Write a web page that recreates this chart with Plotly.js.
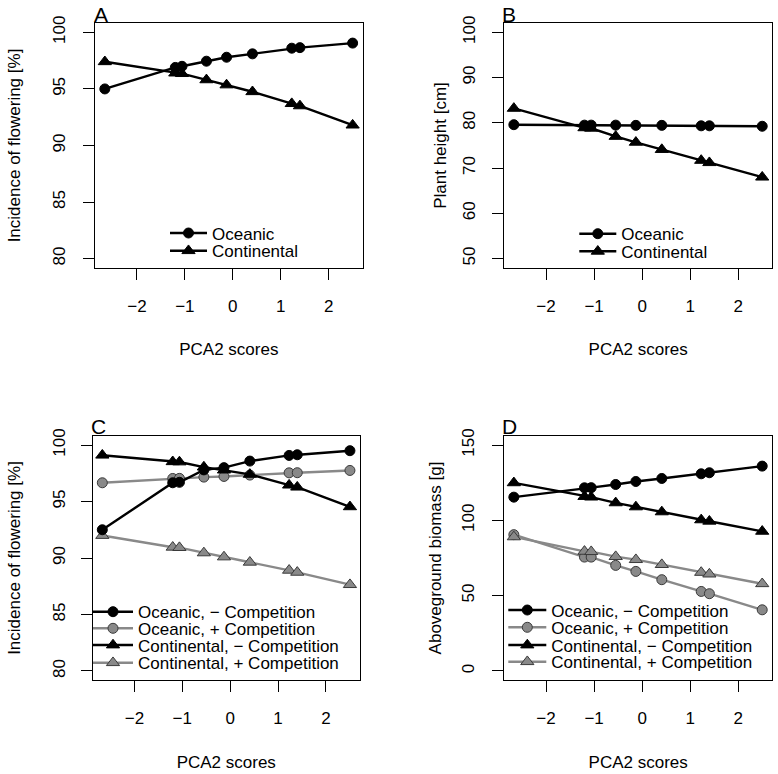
<!DOCTYPE html>
<html><head><meta charset="utf-8">
<script src="https://cdn.plot.ly/plotly-3.0.1.min.js"></script>
<style>html,body{margin:0;padding:0;background:#fff;} #chart{width:778px;height:774px;}</style>
</head><body><div id="chart"></div>
<script>
// PCA2 scores of the populations (x values shared by all panels)
const pcaScores = [-2.67, -1.20, -1.06, -0.55, -0.13, 0.41, 1.23, 1.40, 2.50];
const xTicks = [-2, -1, 0, 1, 2];

// Panel A: incidence of flowering [%]
const aOceanic     = [95.0, 96.9, 97.0, 97.45, 97.8, 98.1, 98.6, 98.65, 99.05];
const aContinental = [97.4, 96.4, 96.35, 95.8, 95.35, 94.75, 93.7, 93.5, 91.8];

// Panel B: plant height [cm]
const bOceanic     = [79.6, 79.5, 79.5, 79.5, 79.45, 79.45, 79.35, 79.35, 79.25];
const bContinental = [83.2, 78.9, 78.8, 77.0, 75.7, 74.1, 71.7, 71.2, 68.0];

// Panel C: incidence of flowering [%] with/without competition
const cOceanicNoComp     = [92.5, 96.66, 96.7, 97.8, 98.0, 98.58, 99.08, 99.14, 99.5];
const cOceanicComp       = [96.66, 97.04, 97.05, 97.16, 97.22, 97.34, 97.54, 97.55, 97.75];
const cContinentalNoComp = [99.1, 98.52, 98.5, 98.05, 97.78, 97.4, 96.45, 96.27, 94.53];
const cContinentalComp   = [91.99, 90.95, 90.92, 90.45, 90.09, 89.62, 88.91, 88.73, 87.64];

// Panel D: aboveground biomass [g]
const dOceanicNoComp     = [115.4, 121.6, 121.7, 123.8, 125.8, 127.8, 130.9, 131.6, 136.0];
const dOceanicComp       = [90.5, 75.6, 75.6, 70.1, 66.1, 60.6, 52.8, 51.3, 40.6];
const dContinentalNoComp = [124.9, 115.8, 115.4, 111.6, 108.9, 105.6, 100.3, 99.4, 92.7];
const dContinentalComp   = [89.0, 79.4, 79.2, 75.9, 73.9, 70.6, 65.4, 64.3, 57.9];

const labelsAB = ['Oceanic', 'Continental'];
const labelsCD = ['Oceanic, \u2212 Competition', 'Oceanic, + Competition',
                  'Continental, \u2212 Competition', 'Continental, + Competition'];
const yTicksAC = [80, 85, 90, 95, 100];
const yTicksB  = [50, 60, 70, 80, 90, 100];
const yTicksD  = [0, 50, 100, 150];
const yTitles  = ['Incidence of flowering [%]', 'Plant height [cm]',
                  'Incidence of flowering [%]', 'Aboveground biomass [g]'];

const FONT = 'Liberation Sans, Arial, Helvetica, sans-serif';
const FS = 17;
const W = 778, H = 774;
const BLACK = '#000000', GRAY = '#898989', GRAYEDGE = '#3a3a3a';

function trace(x, y, name, ax, ay, symbol, gray, legend) {
  const tri = symbol === 'triangle-up';
  return {
    x: x, y: y, name: name, type: 'scatter', mode: 'lines+markers',
    xaxis: ax, yaxis: ay, legend: legend, showlegend: true,
    line: {color: gray ? GRAY : BLACK, width: 2.4},
    marker: {symbol: symbol, size: tri ? 11.5 : 10, color: gray ? GRAY : BLACK,
             line: {color: gray ? GRAYEDGE : BLACK, width: 1}},
    hoverinfo: 'x+y+name'
  };
}
// empty helper traces that bind the label / title axes to their panel
function binder(ax, ay) {
  return {x: [], y: [], type: 'scatter', mode: 'markers', xaxis: ax, yaxis: ay,
          showlegend: false, hoverinfo: 'skip'};
}

const data = [
  trace(pcaScores, aOceanic, labelsAB[0], 'x', 'y', 'circle', false, 'legend'),
  trace(pcaScores, aContinental, labelsAB[1], 'x', 'y', 'triangle-up', false, 'legend2'),
  trace(pcaScores, bOceanic, labelsAB[0], 'x2', 'y2', 'circle', false, 'legend3'),
  trace(pcaScores, bContinental, labelsAB[1], 'x2', 'y2', 'triangle-up', false, 'legend4'),
  trace(pcaScores, cOceanicNoComp, labelsCD[0], 'x3', 'y3', 'circle', false, 'legend5'),
  trace(pcaScores, cOceanicComp, labelsCD[1], 'x3', 'y3', 'circle', true, 'legend6'),
  trace(pcaScores, cContinentalNoComp, labelsCD[2], 'x3', 'y3', 'triangle-up', false, 'legend7'),
  trace(pcaScores, cContinentalComp, labelsCD[3], 'x3', 'y3', 'triangle-up', true, 'legend8'),
  trace(pcaScores, dOceanicNoComp, labelsCD[0], 'x4', 'y4', 'circle', false, 'legend9'),
  trace(pcaScores, dOceanicComp, labelsCD[1], 'x4', 'y4', 'circle', true, 'legend10'),
  trace(pcaScores, dContinentalNoComp, labelsCD[2], 'x4', 'y4', 'triangle-up', false, 'legend11'),
  trace(pcaScores, dContinentalComp, labelsCD[3], 'x4', 'y4', 'triangle-up', true, 'legend12')
];
// draw order: grey series below black ones, like the reference
data.sort(function(a, b) { return (a.line.color === GRAY ? 0 : 1) - (b.line.color === GRAY ? 0 : 1); });
['', '2', '3', '4'].forEach(function(s, i) {
  data.push(binder('x' + s, 'y' + (5 + i)));
  data.push(binder('x' + s, 'y' + (9 + i)));
});

function xAxis(domain, anchor) {
  return {
    domain: domain, anchor: anchor, range: [-2.875, 2.71], automargin: false,
    tickvals: xTicks, ticktext: xTicks.map(v => v < 0 ? '\u2212' + Math.abs(v) : String(v)),
    showgrid: false, zeroline: false, showline: true, mirror: true,
    linecolor: BLACK, linewidth: 1, ticks: 'outside', ticklen: 11, tickcolor: BLACK, tickwidth: 1,
    ticklabelstandoff: 12,
    tickfont: {family: FONT, size: FS, color: BLACK},
    title: {text: 'PCA2 scores', font: {family: FONT, size: FS, color: BLACK}, standoff: 28},
    fixedrange: true
  };
}
// main y axis: frame and tick marks
function yAxis(domain, anchor, range, ticks) {
  return {
    domain: domain, anchor: anchor, range: range, tickvals: ticks, automargin: false,
    showgrid: false, zeroline: false, showline: true, mirror: true,
    linecolor: BLACK, linewidth: 1, ticks: 'outside', ticklen: 11, tickcolor: BLACK, tickwidth: 1,
    showticklabels: false, fixedrange: true
  };
}
// overlay y axis carrying the rotated tick labels
function yLabelAxis(main, domain, range, ticks, posPx) {
  return {
    overlaying: main, anchor: 'free', position: posPx / W, side: 'left',
    domain: domain, range: range, tickvals: ticks, automargin: false,
    showgrid: false, zeroline: false, showline: false, ticks: '',
    tickangle: -90, tickfont: {family: FONT, size: FS, color: BLACK}, fixedrange: true
  };
}
// overlay y axis carrying the axis title
function yTitleAxis(main, domain, range, title, posPx) {
  return {
    overlaying: main, anchor: 'free', position: posPx / W, side: 'left',
    domain: domain, range: range, automargin: false,
    showgrid: false, zeroline: false, showline: false, ticks: '', showticklabels: false,
    title: {text: title, font: {family: FONT, size: FS, color: BLACK}}, fixedrange: true
  };
}

const xdA = [95 / W, 362.7 / W], xdB = [504 / W, 772.3 / W];
const xdC = [92.5 / W, 360 / W], xdD = [504 / W, 772.3 / W];
const ydTop = [1 - 267.7 / H, 1 - 23.3 / H], ydBot = [1 - 680 / H, 1 - 436 / H];
const rA = [79.2, 100.8], rB = [48, 102], rC = [79.2, 100.8], rD = [-6, 156];

// one legend per row so rows sit at the reference spacing
const ROWOFF = 17.55;
function legendAt(lineStartPx, rowCenterPx, itemwidth) {
  return {
    x: (lineStartPx - 5) / W, xanchor: 'left',
    y: 1 - (rowCenterPx - ROWOFF) / H, yanchor: 'top',
    bgcolor: 'rgba(0,0,0,0)', borderwidth: 0, itemwidth: itemwidth,
    font: {family: FONT, size: FS, color: BLACK}, itemclick: false, itemdoubleclick: false
  };
}

function panelLabel(txt, boxLeftPx, topPx) {
  return {text: txt, xref: 'paper', yref: 'paper', x: (boxLeftPx - 2.5) / W, y: 1 - topPx / H,
          xanchor: 'left', yanchor: 'top', showarrow: false, borderpad: 0,
          font: {family: FONT, size: 21, color: BLACK}};
}

const LABOFF = 6.5, TITOFF = 39;
const layout = {
  width: W, height: H, margin: {l: 0, r: 0, t: 0, b: 0, autoexpand: false},
  paper_bgcolor: '#ffffff', plot_bgcolor: '#ffffff',
  font: {family: FONT, size: FS, color: BLACK},
  xaxis: xAxis(xdA, 'y'), yaxis: yAxis(ydTop, 'x', rA, yTicksAC),
  xaxis2: xAxis(xdB, 'y2'), yaxis2: yAxis(ydTop, 'x2', rB, yTicksB),
  xaxis3: xAxis(xdC, 'y3'), yaxis3: yAxis(ydBot, 'x3', rC, yTicksAC),
  xaxis4: xAxis(xdD, 'y4'), yaxis4: yAxis(ydBot, 'x4', rD, yTicksD),
  yaxis5: yLabelAxis('y', ydTop, rA, yTicksAC, 61.7 + LABOFF),
  yaxis6: yLabelAxis('y2', ydTop, rB, yTicksB, 471.5 + LABOFF),
  yaxis7: yLabelAxis('y3', ydBot, rC, yTicksAC, 61.7 + LABOFF),
  yaxis8: yLabelAxis('y4', ydBot, rD, yTicksD, 470.5 + LABOFF),
  yaxis9: yTitleAxis('y', ydTop, rA, yTitles[0], 16.7 + TITOFF),
  yaxis10: yTitleAxis('y2', ydTop, rB, yTitles[1], 442 + TITOFF),
  yaxis11: yTitleAxis('y3', ydBot, rC, yTitles[2], 16.7 + TITOFF),
  yaxis12: yTitleAxis('y4', ydBot, rD, yTitles[3], 437.3 + TITOFF),
  legend: legendAt(170, 233, 37),
  legend2: legendAt(170, 250.7, 37),
  legend3: legendAt(579.3, 233.7, 37),
  legend4: legendAt(579.3, 251.3, 37),
  legend5: legendAt(93, 611.7, 40),
  legend6: legendAt(93, 628.3, 40),
  legend7: legendAt(93, 645, 40),
  legend8: legendAt(93, 662.7, 40),
  legend9: legendAt(508.3, 610, 38),
  legend10: legendAt(508.3, 627.3, 38),
  legend11: legendAt(508.3, 645, 38),
  legend12: legendAt(508.3, 661.7, 38),
  annotations: [
    panelLabel('A', 95, 1.5),
    panelLabel('B', 504, 1.5),
    panelLabel('C', 92.5, 414.2),
    panelLabel('D', 504, 414.2)
  ]
};

Plotly.newPlot('chart', data, layout, {staticPlot: true, displayModeBar: false});
</script></body></html>
